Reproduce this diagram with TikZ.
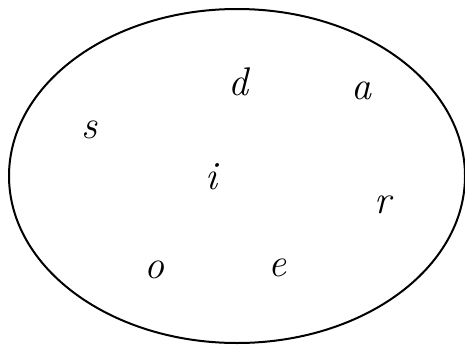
\documentclass[tikz,border=0pt]{standalone}
\tikzset{
  letter/.style={font=\itshape\fontsize{40}{44}\selectfont, inner sep=0pt}
}
\begin{document}
\begin{tikzpicture}[x=1pt, y=-1pt]
  \useasboundingbox (0,0) rectangle (465,345);
  \draw[line width=2pt] (237,176) ellipse [x radius=228, y radius=167];
  \node[letter] (d) at (238,82)  {d};
  \node[letter] (a) at (361,91)  {a};
  \node[letter] (s) at (89,130)  {s};
  \node[letter] (i) at (211,177) {i};
  \node[letter] (r) at (383,205) {r};
  \node[letter] (o) at (154,270) {o};
  \node[letter] (e) at (277,268) {e};
\end{tikzpicture}
\end{document}
